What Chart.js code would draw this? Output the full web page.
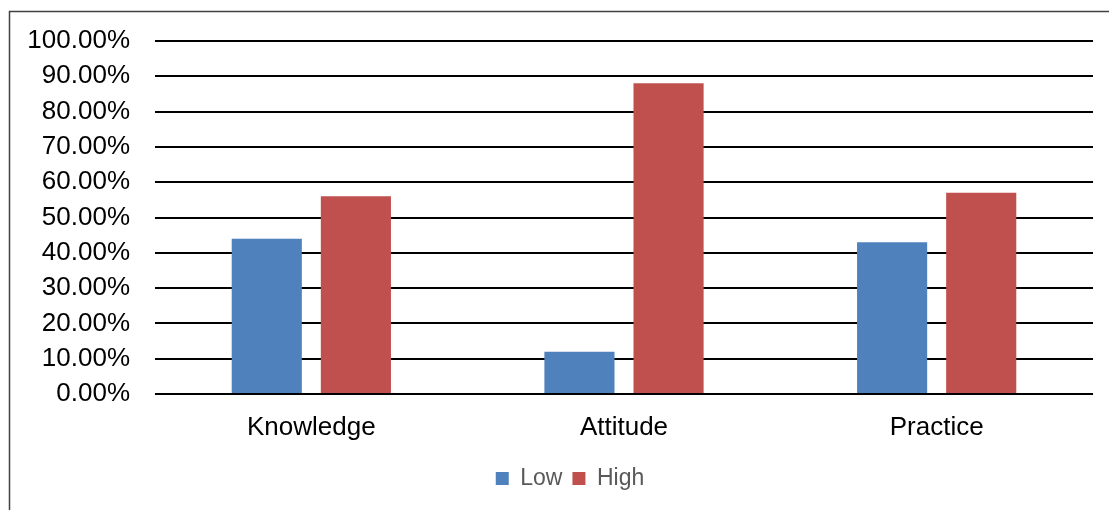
<!DOCTYPE html>
<html>
<head>
<meta charset="utf-8">
<script src="https://cdn.jsdelivr.net/npm/chart.js@4"></script>
<style>
  html, body { margin: 0; padding: 0; background: #fff; }
  #wrap { width: 1109px; height: 510px; position: relative; }
</style>
</head>
<body>
<div id="wrap"><canvas id="kapChart" width="1109" height="510"></canvas></div>
<script>
const categories = ['Knowledge', 'Attitude', 'Practice'];
const lowValues = [44, 12, 43];
const highValues = [56, 88, 57];
const yTicks = [0, 10, 20, 30, 40, 50, 60, 70, 80, 90, 100];

const fontFamily = '"Liberation Sans", Arial, sans-serif';

// outer frame (only left and top edges are visible in the picture)
const framePlugin = {
    id: 'frame',
    beforeDraw(chart) {
        const c = chart.ctx;
        c.save();
        c.strokeStyle = '#404040';
        c.lineWidth = 1.5;
        c.beginPath();
        c.moveTo(9.5, 510);
        c.lineTo(9.5, 11.5);
        c.lineTo(1109, 11.5);
        c.stroke();
        c.restore();
    }
};

// the legend sits a bit right of centre in the source
const legendShift = {
    id: 'legendShift',
    afterLayout(chart) {
        chart.legend.left += 47;
        chart.legend.right += 0;
    }
};

const ctx = document.getElementById('kapChart').getContext('2d');

new Chart(ctx, {
    type: 'bar',
    data: {
        labels: categories,
        datasets: [{
            label: 'Low',
            data: lowValues,
            backgroundColor: '#4F81BD',
            categoryPercentage: 0.57,
            barPercentage: 0.787
        }, {
            label: 'High',
            data: highValues,
            backgroundColor: '#C0504D',
            categoryPercentage: 0.57,
            barPercentage: 0.787
        }]
    },
    options: {
        responsive: false,
        animation: false,
        layout: { padding: { top: 41, right: 16, bottom: 10, left: 0 } },
        plugins: {
            tooltip: { enabled: false },
            legend: {
                position: 'bottom',
                labels: {
                    color: '#595959',
                    font: { family: fontFamily, size: 23 },
                    boxWidth: 13,
                    boxHeight: 13,
                    padding: 10
                }
            }
        },
        scales: {
            x: {
                grid: { display: false, drawTicks: false },
                border: { display: false },
                ticks: {
                    color: '#000',
                    padding: 18,
                    font: { family: fontFamily, size: 26 }
                },
                afterFit(axis) { axis.height = 63; }
            },
            y: {
                min: 0,
                max: 100,
                afterBuildTicks(axis) { axis.ticks = yTicks.map(v => ({ value: v })); },
                grid: { color: '#000', lineWidth: 2, drawTicks: false },
                border: { display: false },
                ticks: {
                    color: '#000',
                    padding: 25,
                    font: { family: fontFamily, size: 26 },
                    callback: v => v.toFixed(2) + '%'
                },
                afterFit(axis) { axis.width = 155; }
            }
        }
    },
    plugins: [framePlugin, legendShift]
});
</script>
</body>
</html>
